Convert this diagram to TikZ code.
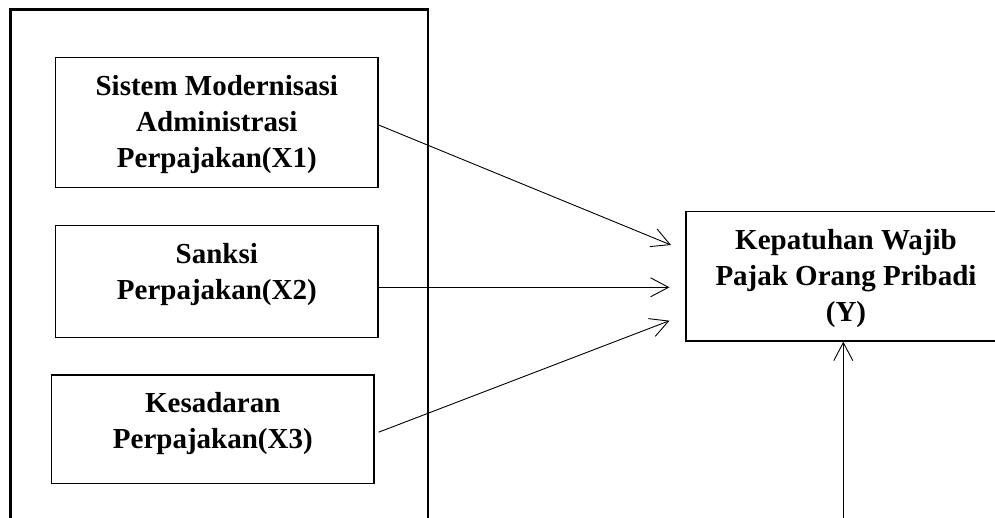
\documentclass[tikz,border=0pt]{standalone}
\usepackage{fontspec}
\setmainfont{Liberation Serif}
\usetikzlibrary{arrows.meta}
\begin{document}
\begin{tikzpicture}[x=1pt,y=-1pt,
  varbox/.style={draw, line width=1.2pt, inner sep=0pt},
  boxtext/.style={anchor=north, align=center, inner sep=0pt,
    font=\fontsize{29}{36}\selectfont\bfseries, yshift=-13pt},
  arr/.style={line width=0.9pt, -{Straight Barb[length=18pt,width=19pt,line width=0.9pt]}},
  frame/.style={draw, line width=2.7pt}]
\useasboundingbox (0,0) rectangle (995,518);
\clip (0,0) rectangle (995,518);
\fill[white] (0,0) rectangle (995,518);
% outer frame
\draw[frame] (10.7,9.7) rectangle (428,560);
% boxes
\node[varbox, minimum width=322.5pt, minimum height=130pt] (x1) at (216.8,122.3) {};
\node[boxtext] (x1t) at (x1.north) {\strut Sistem Modernisasi\\Administrasi\\Perpajakan(X1)};
\node[varbox, minimum width=322.5pt, minimum height=112pt] (x2) at (216.8,281.3) {};
\node[boxtext] (x2t) at (x2.north) {\strut Sanksi\\Perpajakan(X2)};
\node[varbox, minimum width=322.5pt, minimum height=108.3pt] (x3) at (212.8,429.2) {};
\node[boxtext] (x3t) at (x3.north) {\strut Kesadaran\\Perpajakan(X3)};
\node[varbox, minimum width=320pt, minimum height=129.3pt] (y) at (846,276.4) {};
\node[boxtext] (yt) at (y.north) {\strut Kepatuhan Wajib\\Pajak Orang Pribadi\\(Y)};
% connectors
\coordinate (e1) at (671,245);
\coordinate (e2) at (669.5,287.3);
\coordinate (e3) at (669.5,320.7);
\coordinate (bot) at (843.3,530);
\draw[arr] ([yshift=-2.7pt]x1.east) -- (e1);
\draw[arr] ([yshift=-6pt]x2.east) -- (e2);
\draw[arr] ([xshift=4pt,yshift=-3pt]x3.east) -- (e3);
\draw[arr] (bot) -- (bot |- y.south);
\end{tikzpicture}
\end{document}
